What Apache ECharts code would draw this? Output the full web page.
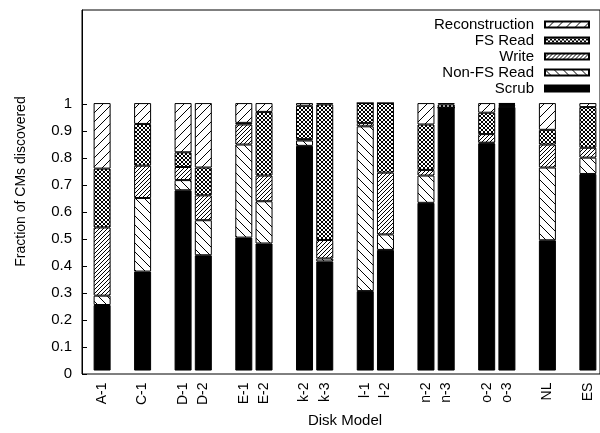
<!DOCTYPE html>
<html>
<head>
<meta charset="utf-8">
<script src="https://cdn.jsdelivr.net/npm/echarts@6/dist/echarts.min.js"></script>
<style>
html,body{margin:0;padding:0;background:#fff;}
#chart{width:600px;height:433px;}
</style>
</head>
<body>
<div id="chart"></div>
<script>
// Slots along the x axis ('' = gap between disk groups)
const slots = ['A-1','','C-1','','D-1','D-2','','E-1','E-2','','k-2','k-3','','l-1','l-2','','n-2','n-3','','o-2','o-3','','NL','','ES'];
// Disk models (in order of appearance)
const disks = ['A-1','C-1','D-1','D-2','E-1','E-2','k-2','k-3','l-1','l-2','n-2','n-3','o-2','o-3','NL','ES'];
// Fractions per disk model
const scrub          = [0.245,0.370,0.674,0.431,0.497,0.475,0.840,0.408,0.297,0.451,0.627,0.983,0.849,0.985,0.487,0.735];
const nonFsRead      = [0.035,0.275,0.038,0.131,0.348,0.158,0.020,0.011,0.616,0.058,0.102,0.000,0.003,0.003,0.272,0.061];
const write          = [0.255,0.121,0.049,0.093,0.075,0.096,0.005,0.069,0.012,0.231,0.021,0.000,0.032,0.005,0.086,0.037];
const fsRead         = [0.220,0.156,0.055,0.104,0.006,0.238,0.125,0.507,0.075,0.260,0.170,0.012,0.080,0.004,0.055,0.152];
const reconstruction = [0.245,0.078,0.184,0.241,0.074,0.033,0.010,0.005,0.000,0.000,0.080,0.005,0.036,0.003,0.100,0.015];
// Y tick labels
const yTicks = [0,0.1,0.2,0.3,0.4,0.5,0.6,0.7,0.8,0.9,1];

function pattern(kind){
  const c = document.createElement('canvas');
  let s = 9;
  if (kind === 'dense') s = 4;
  if (kind === 'cross') s = 4;
  c.width = s; c.height = s;
  const g = c.getContext('2d');
  g.fillStyle = '#fff'; g.fillRect(0,0,s,s);
  g.strokeStyle = '#000'; g.lineWidth = 1;
  function fwd(){ // "/"
    g.beginPath();
    g.moveTo(-1,s+1); g.lineTo(s+1,-1);
    g.moveTo(-1,1); g.lineTo(1,-1);
    g.moveTo(s-1,s+1); g.lineTo(s+1,s-1);
    g.stroke();
  }
  function back(){ // "\"
    g.beginPath();
    g.moveTo(-1,-1); g.lineTo(s+1,s+1);
    g.moveTo(s-1,-1); g.lineTo(s+1,1);
    g.moveTo(-1,s-1); g.lineTo(1,s+1);
    g.stroke();
  }
  if (kind === 'fwd' || kind === 'dense') fwd();
  if (kind === 'back') back();
  if (kind === 'cross') { fwd(); back(); }
  return {image: c, repeat: 'repeat'};
}

// map each disk's value onto its slot; gaps get no bar
function mk(vals){
  return slots.map(s => { const i = disks.indexOf(s); return i < 0 ? '-' : vals[i]; });
}

const fills = {
  'Scrub': '#000',
  'Non-FS Read': pattern('back'),
  'Write': pattern('dense'),
  'FS Read': pattern('cross'),
  'Reconstruction': pattern('fwd')
};
const seriesDefs = [
  ['Scrub', scrub],
  ['Non-FS Read', nonFsRead],
  ['Write', write],
  ['FS Read', fsRead],
  ['Reconstruction', reconstruction]
];

const font = 'Liberation Sans, Arial, Helvetica, sans-serif';
const YMAX = 1.348;
const chart = echarts.init(document.getElementById('chart'), null, {renderer:'canvas'});
chart.setOption({
  animation: false,
  backgroundColor: '#fff',
  textStyle: {fontFamily: font, color: '#000'},
  grid: [
    {left: 92, top: 10, right: 2, bottom: 59, show: false},
    {left: 82, top: 10, right: 0, bottom: 59, show: true, borderColor: '#000', borderWidth: 1, backgroundColor: 'transparent'}
  ],
  legend: {
    orient: 'vertical', right: 10, top: 17, align: 'right', padding: 0,
    itemWidth: 44, itemHeight: 6, itemGap: 1,
    icon: 'rect',
    selectedMode: false,
    data: ['Reconstruction','FS Read','Write','Non-FS Read','Scrub'],
    textStyle: {fontFamily: font, fontSize: 15, color: '#000', lineHeight: 15, padding: [0,6,0,0]}
  },
  xAxis: [
    {
      gridIndex: 0, type: 'category', data: slots, boundaryGap: true,
      axisTick: {show: false},
      axisLine: {show: false},
      axisLabel: {rotate: 90, margin: 12, fontSize: 14, color: '#000', fontFamily: font, interval: 0},
      name: 'Disk Model', nameLocation: 'middle', nameGap: 38,
      nameTextStyle: {fontSize: 15, color: '#000', fontFamily: font, padding: [0,0,0,0]}
    },
    {gridIndex: 1, type: 'value', min: 0, max: 1, show: false}
  ],
  yAxis: [
    {gridIndex: 0, type: 'value', min: 0, max: YMAX, show: false},
    {
      gridIndex: 1, type: 'value', min: 0, max: YMAX,
      splitLine: {show: false},
      axisLine: {show: true, onZero: false, lineStyle: {color: '#000'}},
      axisTick: {show: true, inside: true, length: 5, lineStyle: {color: '#000'}, customValues: yTicks},
      axisLabel: {fontSize: 15, color: '#000', margin: 10, fontFamily: font, customValues: yTicks,
        formatter: v => String(+v.toFixed(1))},
      name: 'Fraction of CMs discovered', nameLocation: 'middle', nameGap: 54,
      nameTextStyle: {fontSize: 14, color: '#000', fontFamily: font, padding: [0,0,0,21]}
    }
  ],
  series: seriesDefs.map(([name, vals]) => ({
    name, type: 'bar', stack: 'all', barWidth: 17,
    xAxisIndex: 0, yAxisIndex: 0,
    data: mk(vals),
    itemStyle: {color: fills[name], borderColor: '#000', borderWidth: 1},
    emphasis: {disabled: true}
  }))
});
</script>
</body>
</html>
